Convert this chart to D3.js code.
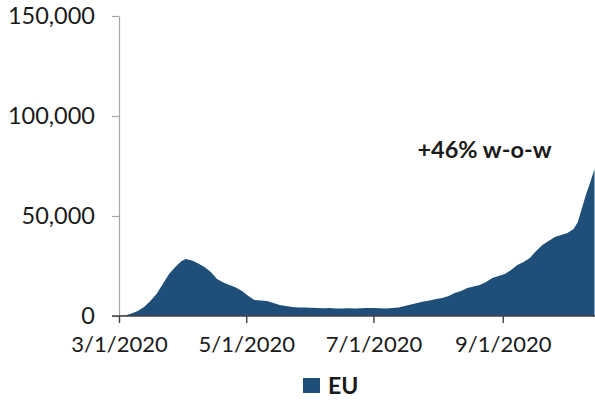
<!DOCTYPE html>
<html>
<head>
<meta charset="utf-8">
<script src="https://cdn.jsdelivr.net/npm/d3@7"></script>
<style>
  html, body { margin: 0; padding: 0; background: #fff; }
  svg { display: block; }
  text { font-family: Lato, "Open Sans", sans-serif; fill: #1a1a1a; }
</style>
</head>
<body>
<svg id="chart" width="595" height="400"></svg>
<script>
// Daily new cases in the EU (7-day average)
const dates = [
  "2020-03-01","2020-03-04","2020-03-07","2020-03-10","2020-03-13","2020-03-16",
  "2020-03-19","2020-03-22","2020-03-25","2020-03-28","2020-03-31","2020-04-02",
  "2020-04-05","2020-04-08","2020-04-11","2020-04-14","2020-04-17","2020-04-20",
  "2020-04-23","2020-04-26","2020-04-29","2020-05-02","2020-05-05","2020-05-08",
  "2020-05-11","2020-05-14","2020-05-17","2020-05-20","2020-05-23","2020-05-26",
  "2020-05-29","2020-06-01","2020-06-04","2020-06-07","2020-06-10","2020-06-13",
  "2020-06-16","2020-06-19","2020-06-22","2020-06-25","2020-06-28","2020-07-01",
  "2020-07-04","2020-07-07","2020-07-10","2020-07-13","2020-07-16","2020-07-19",
  "2020-07-22","2020-07-25","2020-07-28","2020-07-31","2020-08-03","2020-08-06",
  "2020-08-09","2020-08-12","2020-08-15","2020-08-18","2020-08-21","2020-08-24",
  "2020-08-27","2020-08-30","2020-09-02","2020-09-05","2020-09-08","2020-09-11",
  "2020-09-14","2020-09-17","2020-09-20","2020-09-23","2020-09-26","2020-09-29",
  "2020-10-02","2020-10-05","2020-10-07","2020-10-09","2020-10-11","2020-10-13",
  "2020-10-15"
];
const cases = [
  100, 300, 1200, 2500, 4500, 7500,
  11000, 16000, 21000, 24500, 27500, 28500,
  27700, 26200, 24500, 22000, 18500, 16800,
  15500, 14200, 12500, 10000, 8000, 7800,
  7500, 6500, 5500, 5000, 4500, 4300,
  4200, 4100, 4000, 3900, 4000, 3800,
  3700, 3900, 3800, 3900, 4000, 4000,
  3900, 3800, 4000, 4300, 5000, 5700,
  6500, 7200, 7800, 8500, 9000, 10000,
  11500, 12500, 14000, 14800, 15500, 17000,
  19000, 20000, 21000, 23000, 25500, 27000,
  29000, 32500, 35500, 37500, 39500, 40500,
  41500, 43500, 47000, 54000, 61000, 67000,
  73500
];
const yTicks = [0, 50000, 100000, 150000];
const xTickDates = ["2020-03-01", "2020-05-01", "2020-07-01", "2020-09-01"];
const seriesName = "EU";
const annotation = "+46% w-o-w";

const parse = d3.utcParse("%Y-%m-%d");
const data = dates.map((d, i) => ({ date: parse(d), value: cases[i] }));

const svg = d3.select("#chart");
const plotLeft = 119, plotRight = 594.5, plotTop = 16, plotBottom = 316;

const x = d3.scaleUtc()
  .domain([parse("2020-03-01"), parse("2020-10-15")])
  .range([plotLeft, plotRight]);
const y = d3.scaleLinear().domain([0, 150000]).range([plotBottom, plotTop]);

// Filled area
svg.append("path")
  .datum(data)
  .attr("fill", "#1f4e79")
  .attr("d", d3.area()
    .x(d => x(d.date))
    .y0(y(0))
    .y1(d => y(d.value)));

// Y axis
const yAxis = svg.append("g")
  .attr("transform", `translate(${plotLeft},0)`)
  .call(d3.axisLeft(y).tickValues(yTicks).tickFormat(d3.format(",")).tickSize(7).tickSizeOuter(0).tickPadding(17));
yAxis.select(".domain").attr("stroke", "#a6a6a6").attr("stroke-width", 1.2);
yAxis.selectAll(".tick line").attr("stroke", "#a6a6a6").attr("stroke-width", 1.2);
yAxis.selectAll(".tick text").style("font-size", "23.5px").style("fill", "#1a1a1a");

// X axis
const xAxis = svg.append("g")
  .attr("transform", `translate(0,${plotBottom})`)
  .call(d3.axisBottom(x).tickValues(xTickDates.map(parse))
    .tickFormat(d3.utcFormat("%-m/%-d/%Y")).tickSize(7).tickSizeOuter(0).tickPadding(13));
xAxis.select(".domain").remove();
xAxis.append("line")
  .attr("x1", plotLeft - 7).attr("x2", 595)
  .attr("stroke", "#404040").attr("stroke-width", 1.4);
xAxis.selectAll(".tick line").attr("stroke", "#404040").attr("stroke-width", 1.4);
xAxis.selectAll(".tick text").style("font-size", "22px").style("fill", "#1a1a1a");

// Annotation
svg.append("text")
  .attr("x", 484.5).attr("y", 157.5)
  .attr("text-anchor", "middle")
  .style("font-size", "23.5px").style("font-weight", "bold")
  .text(annotation);

// Legend
svg.append("rect")
  .attr("x", 303).attr("y", 378).attr("width", 17).attr("height", 15)
  .attr("fill", "#1f4e79");
svg.append("text")
  .attr("x", 328).attr("y", 393.5)
  .style("font-size", "23px").style("font-weight", "bold")
  .text(seriesName);
</script>
</body>
</html>
